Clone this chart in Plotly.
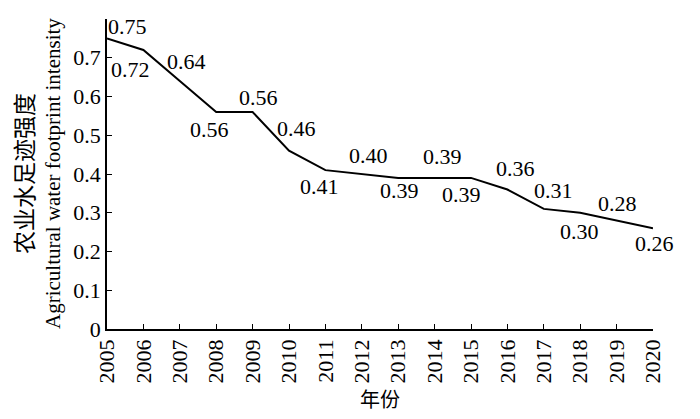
import plotly.graph_objects as go

years = list(range(2005, 2021))
intensity = [0.75, 0.72, 0.64, 0.56, 0.56, 0.46, 0.41, 0.40, 0.39, 0.39, 0.39, 0.36, 0.31, 0.30, 0.28, 0.26]
value_labels = ["0.75", "0.72", "0.64", "0.56", "0.56", "0.46", "0.41", "0.40", "0.39", "0.39", "0.39", "0.36", "0.31", "0.30", "0.28", "0.26"]
y_ticks = [0, 0.1, 0.2, 0.3, 0.4, 0.5, 0.6, 0.7, 0.8]
y_ticktext = ["0", "0.1", "0.2", "0.3", "0.4", "0.5", "0.6", "0.7", "0.8"]
y_title = "<span style='font-family:Noto Sans CJK SC;font-size:23px'>农业水足迹强度</span><br>Agricultural water footprint intensity"

# label offsets in pixels (style)
offsets = [(20, 12), (-13, -19), (7, 20), (-7, -17), (6, 15), (7, 22), (-6, -16), (7, 19),
           (1, -13), (8, 21), (-10, -17), (8, 21), (10, 18), (-1, -19), (1, 17), (1, -15)]

serif = "Liberation Serif"

fig = go.Figure()
fig.add_trace(go.Scatter(x=years, y=intensity, mode="lines",
                         line=dict(color="black", width=2), showlegend=False))

for yr, v, t, (dx, dy) in zip(years, intensity, value_labels, offsets):
    fig.add_annotation(x=yr, y=v, text=t, showarrow=False, xshift=dx, yshift=dy,
                       font=dict(family=serif, size=22, color="black"))

# y-axis title as a rotated annotation
fig.add_annotation(xref="paper", yref="paper", x=0, y=0.5, xshift=-72, text=y_title,
                   textangle=-90, showarrow=False, xanchor="center", yanchor="middle",
                   font=dict(family=serif, size=21, color="black"))

fig.update_layout(
    width=700, height=419,
    margin=dict(l=99, r=55, t=11, b=98, autoexpand=False),
    plot_bgcolor="white", paper_bgcolor="white",
    font=dict(family=serif, color="black", size=22),
)
fig.update_xaxes(
    range=[2005, 2020], tickmode="array", tickvals=years, ticktext=[str(y) for y in years],
    tickangle=-90, ticks="inside", ticklen=5, tickcolor="black", showline=True,
    linecolor="black", linewidth=1.5, showgrid=False, zeroline=False, automargin=False,
    tickfont=dict(family=serif, size=22),
    title=dict(text="年份", font=dict(family="Noto Sans CJK SC", size=20), standoff=5),
)
fig.update_yaxes(
    range=[0, 0.8], tickmode="array", tickvals=y_ticks, ticktext=y_ticktext,
    ticks="inside", ticklen=5, tickcolor="black", showline=True,
    linecolor="black", linewidth=1.5, showgrid=False, zeroline=False, automargin=False,
    tickfont=dict(family=serif, size=22),
)

fig.write_html("out.html")
